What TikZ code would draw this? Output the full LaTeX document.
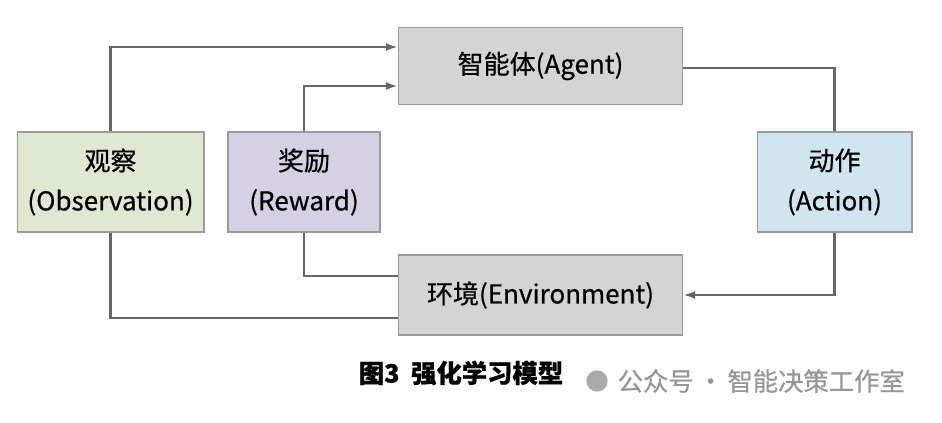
\documentclass[tikz,border=0pt]{standalone}
\usepackage{fontspec}
\setmainfont{Noto Sans CJK SC}[FakeBold=0.6]
\usetikzlibrary{arrows.meta}
\definecolor{bordr}{HTML}{9A9A9A}
\definecolor{ln}{HTML}{666666}
\begin{document}
\begin{tikzpicture}[x=0.75pt,y=-0.75pt,
 box/.style={draw=bordr,line width=1pt,inner sep=0pt,font=\fontsize{19.5}{30}\selectfont,align=center},
 con/.style={draw=ln,line width=1.6pt},
 arr/.style={con,-{Latex[length=9pt,width=6pt]}}]
\useasboundingbox (0,0) rectangle (942,423);
\node[box,fill={rgb,255:red,212;green,212;blue,212},minimum width=213pt,minimum height=58pt] (ag) at (540.5,66) {智能体(Agent)};
\node[box,fill={rgb,255:red,212;green,212;blue,212},minimum width=213pt,minimum height=60pt] (en) at (540.5,295) {环境(Environment)};
\node[box,fill={rgb,255:red,223;green,233;blue,210},minimum width=140pt,minimum height=75pt] (ob) at (110.5,182) {观察\\(Observation)};
\node[box,fill={rgb,255:red,214;green,208;blue,228},minimum width=114pt,minimum height=75pt] (rw) at (304,182) {奖励\\(Reward)};
\node[box,fill={rgb,255:red,207;green,230;blue,238},minimum width=116pt,minimum height=75pt] (ac) at (834.5,182) {动作\\(Action)};
\draw[arr] (ob.north) |- (ag.north west |- 0,47);
\draw[arr] (rw.north) |- (ag.west |- 0,86);
\draw[con] (ag.east |- 0,68) -| (ac.north);
\draw[arr] (ac.south) |- (en.east |- 0,295);
\draw[con] (en.west |- 0,276) -| (rw.south);
\draw[con] (en.west |- 0,318) -| (ob.south);
\node[font=\bfseries\fontsize{19}{22}\selectfont] (cap) at (461,373) {图3\ \ 强化学习模型};
\node[font=\fontsize{19}{22}\selectfont,text={rgb,255:red,150;green,150;blue,150},anchor=west] (wm) at (613,381) {公众号\,·\,智能决策工作室};
\node[circle,fill={rgb,255:red,170;green,170;blue,170},minimum size=16pt,inner sep=0pt] (ic) at (597,381) {};
\end{tikzpicture}
\end{document}
